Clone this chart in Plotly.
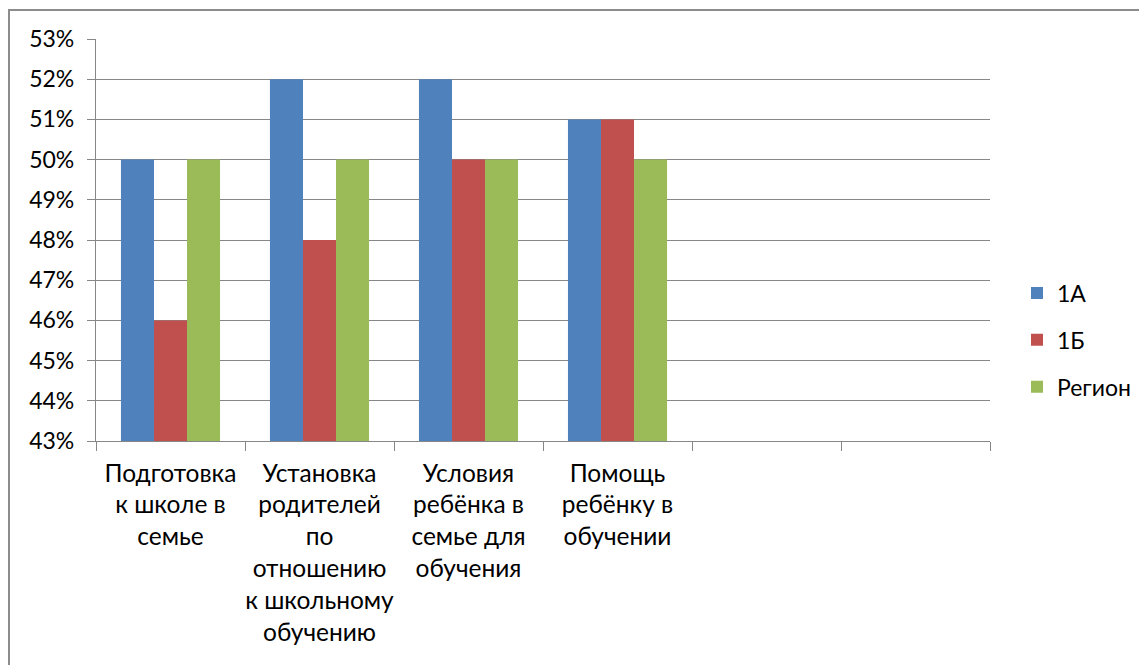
import plotly.graph_objects as go

categories = [
    "Подготовка<br>к школе в<br>семье",
    "Установка<br>родителей<br>по<br>отношению<br>к школьному<br>обучению",
    "Условия<br>ребёнка в<br>семье для<br>обучения",
    "Помощь<br>ребёнку в<br>обучении",
    " ",
    "  ",
]
series_names = ["1А", "1Б", "Регион"]
values_1a = [0.50, 0.52, 0.52, 0.51, None, None]
values_1b = [0.46, 0.48, 0.50, 0.51, None, None]
values_region = [0.50, 0.50, 0.50, 0.50, None, None]
colors = ["#4F81BD", "#C0504D", "#9BBB59"]

FONT = "Lato"
FS = 23
GRID = "#878787"
OFF = 8  # page body offset

fig = go.Figure()
for name, vals, col in zip(series_names, [values_1a, values_1b, values_region], colors):
    fig.add_trace(go.Bar(x=categories, y=vals, name=name, marker_color=col,
                         marker_line_width=0, legendgroup=name))

W, H = 1147 - OFF, 665 - OFF
L, R, T, B = 96 - OFF, 990 - OFF, 39 - OFF, 441 - OFF
fig.update_layout(
    width=W, height=H,
    margin=dict(l=L, r=W - R, t=T, b=H - B, autoexpand=False),
    paper_bgcolor="white", plot_bgcolor="white",
    font=dict(family=FONT, size=FS, color="#000000"),
    barmode="group", bargap=0.335, bargroupgap=0,
    showlegend=True,
    legend=dict(x=1.0 + (1017 - 990) / (R - L), xanchor="left", y=(441 - 340) / 402, yanchor="middle",
                font=dict(family=FONT, size=FS), tracegroupgap=14, bgcolor="rgba(0,0,0,0)"),
    xaxis=dict(type="category", tickson="boundaries", ticks="outside", ticklen=9,
               tickangle=0, ticklabelstandoff=10,
               tickcolor=GRID, tickwidth=1.3, showline=True, linecolor=GRID, linewidth=1.3,
               showgrid=False, tickfont=dict(family=FONT, size=24.5), fixedrange=True),
    yaxis=dict(range=[0.43, 0.53], dtick=0.01, tick0=0.43, tickformat=".0%",
               ticks="outside", ticklen=8, tickcolor=GRID, tickwidth=1.3,
               showline=True, linecolor=GRID, linewidth=1.3,
               showgrid=True, gridcolor=GRID, gridwidth=1.3, zeroline=False,
               ticklabelstandoff=8, tickfont=dict(family=FONT, size=FS)),
    shapes=[dict(type="rect", xref="paper", yref="paper",
                 x0=(1 - L) / (R - L), x1=(W + 20 - L) / (R - L),
                 y0=(B - H - 20) / (B - T), y1=(B - 2) / (B - T),
                 line=dict(color="#8C8C8C", width=2), fillcolor="rgba(0,0,0,0)", layer="below")],
)

fig.write_html("out.html")
